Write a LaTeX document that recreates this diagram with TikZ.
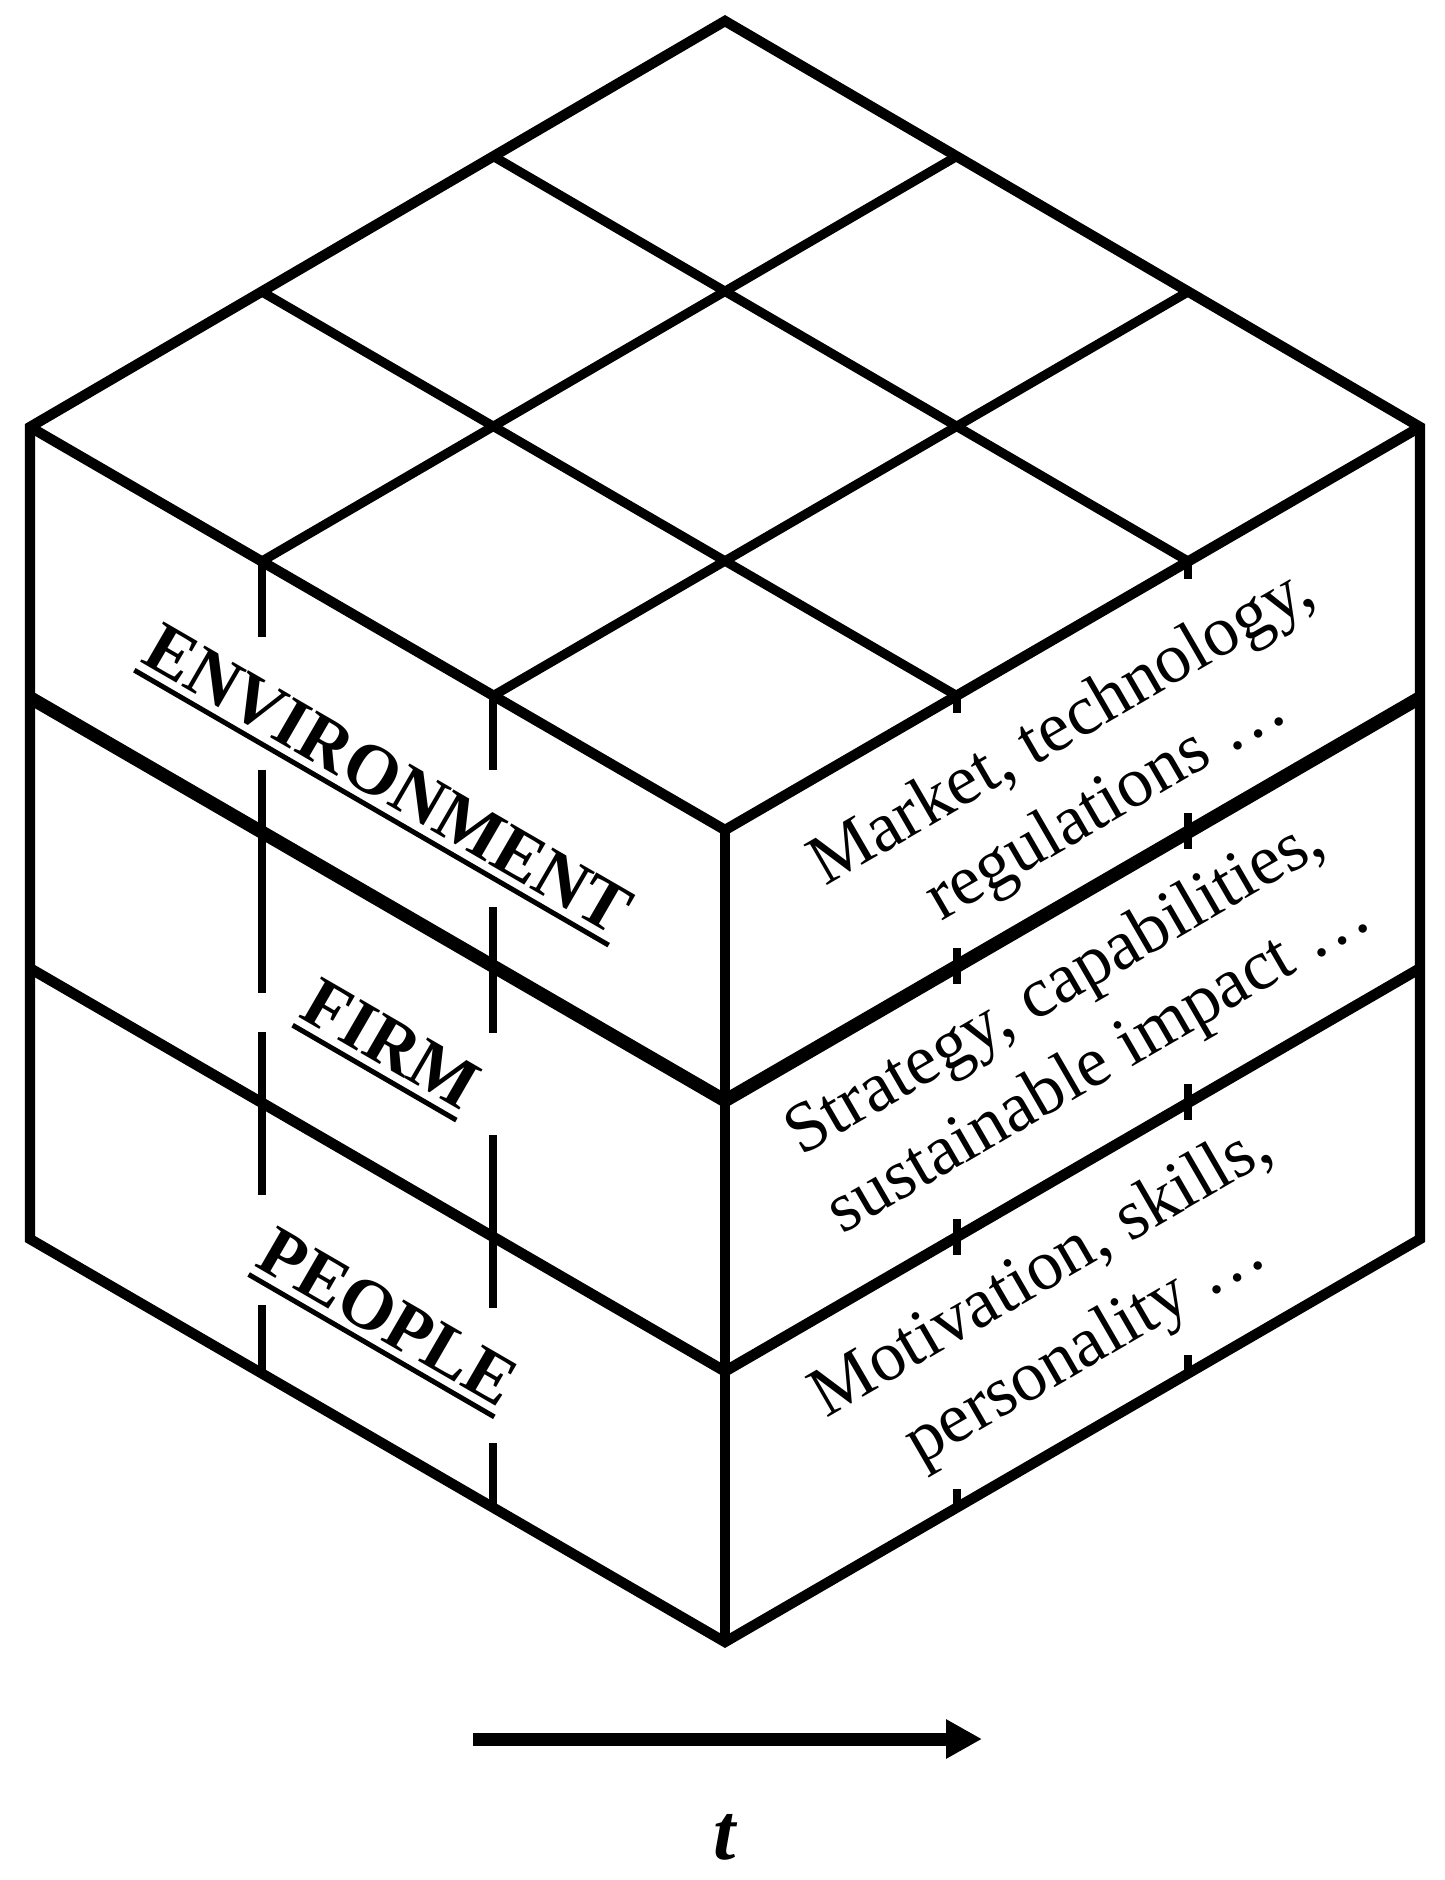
\documentclass[tikz,border=0pt]{standalone}
\usepackage{fontspec}
\setmainfont{Liberation Serif}
\usetikzlibrary{arrows.meta,calc}
\newsavebox\ulbx
\newcommand\ulword[1]{\sbox\ulbx{#1}\rlap{\rule[-3.75pt]{\wd\ulbx}{1.5pt}}\usebox\ulbx}
\begin{document}
\begin{tikzpicture}[x=0.3pt,y=-0.3pt,
  edge/.style={line width=3.1pt, line join=miter},
  gridline/.style={line width=2.8pt},
  layerA/.style={line width=4.0pt},
  layerB/.style={line width=3.2pt},
  dsh/.style={line width=2.4pt},
  lbl/.style={font=\fontsize{21.3}{26}\selectfont\bfseries, inner sep=0pt, anchor=base, rotate=-30.1},
  desc/.style={font=\fontsize{21.3}{26}\selectfont, inner sep=0pt, anchor=base, rotate=30.1}]
\useasboundingbox (0,0) rectangle (1444,1880);
% cube vertices
\coordinate (T) at (725,21);
\coordinate (L) at (30,427);
\coordinate (R) at (1420,427);
\coordinate (F) at (725,830);
\coordinate (LB) at (30,1239);
\coordinate (RB) at (1420,1239);
\coordinate (B) at (725,1642);
% top face grid
\draw[gridline] ($(T)!1/3!(R)$) -- ($(L)!1/3!(F)$);
\draw[gridline] ($(T)!2/3!(R)$) -- ($(L)!2/3!(F)$);
\draw[gridline] ($(T)!1/3!(L)$) -- ($(R)!1/3!(F)$);
\draw[gridline] ($(T)!2/3!(L)$) -- ($(R)!2/3!(F)$);
% layer lines
\draw[layerA] ($(L)!1/3!(LB)$) -- ($(F)!1/3!(B)$) -- ($(R)!1/3!(RB)$);
\draw[layerB] ($(L)!2/3!(LB)$) -- ($(F)!2/3!(B)$) -- ($(R)!2/3!(RB)$);
% left face vertical broken lines
\draw[dsh] (261.7,561.3) -- (261.7,637);
\draw[dsh] (261.7,770) -- (261.7,993);
\draw[dsh] (261.7,1032) -- (261.7,1195);
\draw[dsh] (261.7,1305) -- (261.7,1373.3);
\draw[dsh] (493.3,695.7) -- (493.3,770);
\draw[dsh] (493.3,907) -- (493.3,1033);
\draw[dsh] (493.3,1135) -- (493.3,1308);
\draw[dsh] (493.3,1443) -- (493.3,1507.7);
% right face ticks
\draw[dsh] (956.7,695.7) -- (956.7,713);
\draw[dsh] (956.7,948) -- (956.7,984);
\draw[dsh] (956.7,1219) -- (956.7,1255);
\draw[dsh] (956.7,1489) -- (956.7,1507.7);
\draw[dsh] (1188.3,561.3) -- (1188.3,579);
\draw[dsh] (1188.3,813) -- (1188.3,849);
\draw[dsh] (1188.3,1084) -- (1188.3,1120);
\draw[dsh] (1188.3,1355) -- (1188.3,1373.3);
% outline
\draw[edge] (T) -- (R) -- (RB) -- (B) -- (LB) -- (L) -- cycle;
\draw[edge] (L) -- (F) -- (R);
\draw[edge] (F) -- (B);
% left labels
\node[lbl] (envL) at (376.5,799) {\ulword{ENVIRONMENT}};
\node[lbl] (firmL) at (379.5,1064) {\ulword{FIRM}};
\node[lbl] (peopL) at (376.5,1337) {\ulword{PEOPLE}};
% right descriptions
\node[desc] (envR1) at (1072,744) {Market, technology,};
\node[desc] (envR2) at (1116,820) {regulations …};
\node[desc] (firmR1) at (1065,1004) {Strategy, capabilities,};
\node[desc] (firmR2) at (1109,1080) {sustainable impact …};
\node[desc] (peopR1) at (1051,1288) {Motivation, skills,};
\node[desc] (peopR2) at (1095,1364) {personality …};
% time arrow
\coordinate (a0) at (473,1739);
\coordinate (a1) at (982,1739);
\draw[line width=3.9pt, -{Triangle[length=10.8pt,width=11.1pt]}] (a0) -- (a1);
\node[font=\fontsize{24}{28}\selectfont\bfseries\itshape, anchor=base, inner sep=0pt] (tlab) at (725,1859) {t};
\end{tikzpicture}
\end{document}
